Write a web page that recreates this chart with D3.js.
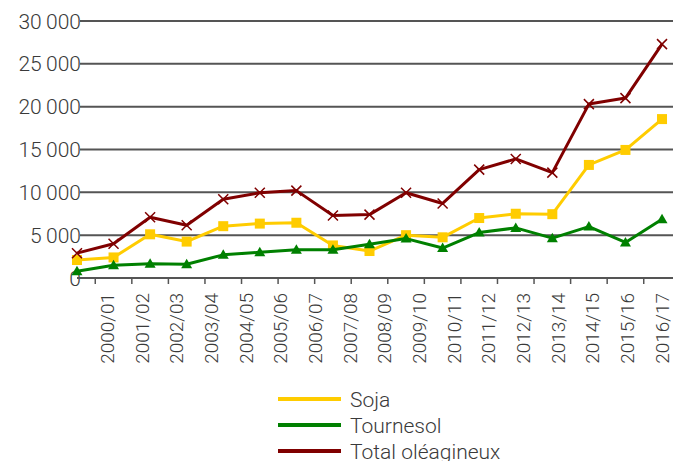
<!DOCTYPE html>
<html>
<head>
<meta charset="utf-8">
<script src="https://cdn.jsdelivr.net/npm/d3@7"></script>
<style>
  body { margin: 0; background: #fff; }
  text { font-family: Roboto, "Liberation Sans", sans-serif; font-weight: 300; fill: #3a3a3a; }
</style>
</head>
<body>
<svg id="chart" width="673" height="461"></svg>
<script>
const campagnes = ["2000/01", "2001/02", "2002/03", "2003/04", "2004/05", "2005/06", "2006/07", "2007/08", "2008/09",
    "2009/10", "2010/11", "2011/12", "2012/13", "2013/14", "2014/15", "2015/16", "2016/17"];
const soja = [2100, 2400, 5100, 4250, 6050, 6350, 6450, 3800, 3150, 5000, 4750, 7000, 7500, 7450, 13200, 14950, 18550];
const tournesol = [800, 1500, 1650, 1600, 2700, 3000, 3300, 3300, 3950, 4600, 3500, 5300, 5850, 4650, 6000, 4150, 6850];
const total = [2900, 4000, 7100, 6150, 9200, 9950, 10200, 7300, 7400, 9950, 8700, 12650, 13900, 12300, 20300, 21000, 27300];
const yTicks = [0, 5000, 10000, 15000, 20000, 25000, 30000];

const series = [
    { name: "Soja", values: soja, color: "#ffcc00", marker: "square" },
    { name: "Tournesol", values: tournesol, color: "#008000", marker: "triangle" },
    { name: "Total oléagineux", values: total, color: "#800000", marker: "cross" }
];

const svg = d3.select("#chart");
const plotLeft = 77, plotRight = 673;

const x = d3.scaleBand().domain(campagnes).range([58.7, 680.3]);
const xLabel = d3.scalePoint().domain(campagnes).range([107, 662]);
const y = d3.scaleLinear().domain([0, 30000]).range([278, 21]);
const fmt = v => d3.format(",")(v).replace(/,/g, "\u2009");

// gridlines
svg.append("g").selectAll("line")
    .data(yTicks.filter(d => d > 0))
    .join("line")
    .attr("x1", 80).attr("x2", plotRight)
    .attr("y1", d => y(d)).attr("y2", d => y(d))
    .attr("stroke", "#555").attr("stroke-width", 2);

// y labels
svg.append("g").selectAll("text")
    .data(yTicks)
    .join("text")
    .attr("x", 81).attr("y", d => y(d))
    .attr("dy", "0.36em")
    .attr("text-anchor", "end")
    .attr("font-size", 21)
    .text(d => d === 0 ? "0" : fmt(d));

// x axis line + ticks between categories
svg.append("line")
    .attr("x1", plotLeft).attr("x2", plotRight)
    .attr("y1", y(0)).attr("y2", y(0))
    .attr("stroke", "#555").attr("stroke-width", 2);

svg.append("g").selectAll("line")
    .data(campagnes.slice(1))
    .join("line")
    .attr("x1", d => x(d)).attr("x2", d => x(d))
    .attr("y1", y(0)).attr("y2", y(0) + 6)
    .attr("stroke", "#555").attr("stroke-width", 1.5);

// x labels
svg.append("g").selectAll("text")
    .data(campagnes)
    .join("text")
    .attr("transform", d => `translate(${xLabel(d)}, 293) rotate(-90)`)
    .attr("dy", "0.36em")
    .attr("text-anchor", "end")
    .attr("font-size", 19)
    .text(d => d);

const cx = (d, i) => x(campagnes[i]) + x.bandwidth() / 2;
const line = d3.line().x((d, i) => cx(d, i)).y(d => y(d));

series.forEach(s => {
    const g = svg.append("g");
    g.append("path")
        .datum(s.values)
        .attr("d", line)
        .attr("fill", "none")
        .attr("stroke", s.color)
        .attr("stroke-width", 3)
        .attr("stroke-linejoin", "round");

    const pts = g.selectAll(".pt")
        .data(s.values)
        .join("g")
        .attr("transform", (d, i) => `translate(${cx(d, i)}, ${y(d)})`);

    if (s.marker === "square") {
        pts.append("rect").attr("x", -5).attr("y", -5).attr("width", 10).attr("height", 10).attr("fill", s.color);
    } else if (s.marker === "triangle") {
        pts.append("path").attr("d", "M0,-5.5L5.5,4L-5.5,4Z").attr("fill", s.color);
    } else {
        pts.append("path").attr("d", "M-5,-5L5,5M-5,5L5,-5").attr("stroke", s.color).attr("stroke-width", 1.5);
    }
});

// legend
const legend = svg.append("g").selectAll("g")
    .data(series)
    .join("g")
    .attr("transform", (d, i) => `translate(278, ${399 + i * 26})`);

legend.append("line")
    .attr("x1", 0).attr("x2", 63)
    .attr("stroke", d => d.color).attr("stroke-width", 4);

legend.append("text")
    .attr("x", 72).attr("dy", "0.36em")
    .attr("font-size", 21)
    .text(d => d.name);
</script>
</body>
</html>
